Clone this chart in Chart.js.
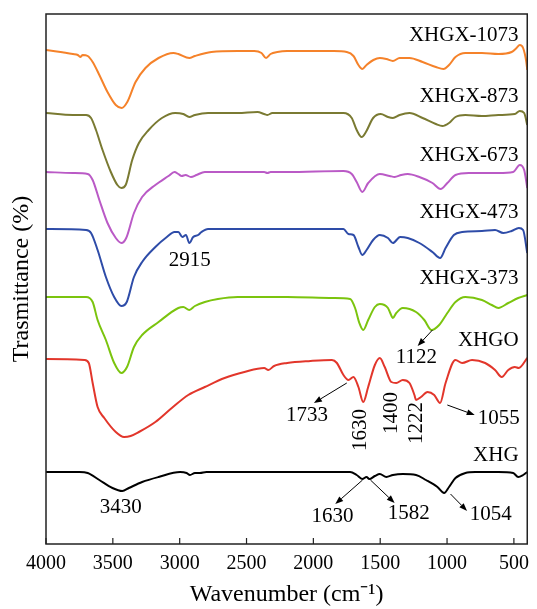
<!DOCTYPE html>
<html>
<head>
<meta charset="utf-8">
<script src="https://cdn.jsdelivr.net/npm/chart.js@4"></script>
<style>
  html,body{margin:0;padding:0;background:#fff;}
  #wrap{width:537px;height:609px;position:relative;}
</style>
</head>
<body>
<div id="wrap"><canvas id="c" width="537" height="609"></canvas></div>
<script>
// ---- data (wavenumber cm-1, relative transmittance with vertical offsets) ----
const wn1073 = [4000,3799,3762,3744,3725,3688,3651,3601,3540,3478,3434,3392,3330,3256,3158,3047,3010,2928,2886,2763,2566,2442,2388,2354,2320,2270,2196,1848,1750,1700,1663,1634,1602,1551,1503,1454,1405,1355,1281,1183,1084,1027,985,937,863,739,616,517,480,456,431,407,400];
const t1073  = [494,490,489,487,489,488,482,469,452,439,436,442,462,476,486,491,490,486,488,492,493,493,491,486,490,492,493,493,492,488,479,475,479,484,486,485,483,486,486,482,477,475,479,487,491,491,490,492,496,499,496,482,474];

const wn873 = [4000,3799,3737,3700,3663,3626,3577,3515,3466,3436,3404,3355,3305,3232,3133,3034,2973,2928,2886,2788,2566,2418,2368,2344,2307,2196,1848,1775,1713,1676,1639,1607,1553,1496,1442,1405,1355,1281,1183,1084,1035,985,937,863,739,616,493,456,423,400];
const t873  = [431,429,429,429,426,414,394,372,359,356,359,384,401,414,426,431,430,427,429,431,431,432,430,429,431,431,431,431,426,414,407,412,426,430,427,426,429,431,426,420,418,421,427,429,428,429,430,433,431,419];

const wn673 = [4000,3799,3688,3651,3601,3540,3478,3436,3400,3342,3281,3182,3084,3039,3010,2985,2956,2916,2874,2812,2566,2368,2344,2320,2196,1775,1713,1676,1634,1590,1503,1429,1392,1343,1294,1207,1109,1048,998,937,837,616,505,456,423,400];
const t673  = [372,371,370,364,344,321,306,301,306,331,347,359,368,372,370,368,369,367,369,372,372,372,371,372,372,373,370,362,352,361,370,368,367,369,370,367,361,355,361,369,371,371,372,379,374,356];

const wn473 = [4000,3700,3663,3614,3552,3490,3436,3396,3342,3281,3182,3096,3039,3010,2980,2953,2928,2899,2862,2837,2788,2196,1775,1738,1700,1663,1634,1602,1553,1503,1442,1405,1351,1294,1207,1109,1052,1011,949,887,739,641,579,517,463,431,400];
const t473  = [315,314,311,294,267,247,238,242,267,282,297,307,312,312,307,309,301,307,309,312,315,315,315,310,309,297,289,294,304,309,306,301,307,306,301,292,286,296,309,312,313,314,311,313,316,314,291];

const wn373 = [4000,3700,3651,3614,3552,3490,3436,3394,3342,3281,3158,3010,2973,2928,2886,2812,2714,2566,2196,1848,1725,1688,1656,1627,1590,1540,1503,1442,1425,1405,1380,1331,1232,1170,1116,1059,998,937,863,739,665,616,542,468,400];
const t373  = [247,247,242,224,204,181,171,177,197,209,222,236,237,234,238,242,245,247,247,246,245,236,221,214,224,237,240,236,231,226,231,236,232,224,214,219,231,242,247,244,239,236,241,246,249];

const wnXHGO = [4000,3712,3680,3651,3614,3564,3478,3416,3367,3305,3182,3059,2936,2812,2664,2516,2368,2337,2294,2196,2021,1861,1824,1775,1738,1700,1663,1627,1590,1540,1503,1466,1417,1380,1331,1281,1244,1232,1195,1146,1096,1052,1011,937,887,813,715,641,591,542,493,463,400];
const tXHGO  = [185,184,181,161,137,126,112,107,108,112,122,136,149,157,166,172,176,174,178,181,183,184,181,169,164,167,157,142,157,179,186,177,162,161,164,161,149,144,147,152,149,141,161,184,181,184,181,174,167,174,177,176,186];

const wnXHG = [4000,3749,3688,3601,3503,3429,3380,3281,3158,2997,2948,2923,2886,2849,2800,2344,1725,1676,1634,1602,1582,1540,1503,1454,1405,1331,1232,1158,1072,1022,985,937,863,789,616,505,468,431,400];
const tXHG  = [72,72,71,64,56,53,56,62,67,72,71,69,71,71,72,72,72,69,65,67,65,68,70,67,69,70,69,64,57,51,57,66,71,72,72,71,67,69,72];

const xTicks = [4000,3500,3000,2500,2000,1500,1000,500];

// series labels: [text, wavenumber (right edge), y]
const seriesLabels = [
  ["XHGX-1073",465,509],["XHGX-873",465,448],["XHGX-673",465,389],
  ["XHGX-473",465,332],["XHGX-373",465,266],["XHGO",465,204],["XHG",465,89]
];
// peak labels: [text, wavenumber (centre), y, rotated]
const peakLabels = [
  ["2915",2925,284,false],["3430",3441,37,false],["1122",1229,186.5,false],
  ["1733",2048,128.5,false],["1055",613,126,false],["1630",1856,27.5,false],
  ["1582",1286,31,false],["1054",673,30,false],
  ["1630",1645,114,true],["1400",1412,131,true],["1222",1231,121,true]
];
// arrows: [fromWn, fromY, toWn, toY]
const arrows = [
  [1109,214,1220,198],[1750,161,1996,141],[998,139,793,129],
  [1632,64,1836,40],[1573,64,1392,41],[974,50,850,33]
];

const series = [
  {label:"XHGX-1073", wn:wn1073, t:t1073, color:"#F5822A"},
  {label:"XHGX-873",  wn:wn873,  t:t873,  color:"#7A7A32"},
  {label:"XHGX-673",  wn:wn673,  t:t673,  color:"#BA5AC6"},
  {label:"XHGX-473",  wn:wn473,  t:t473,  color:"#2E4CA8"},
  {label:"XHGX-373",  wn:wn373,  t:t373,  color:"#7BC40E"},
  {label:"XHGO",      wn:wnXHGO, t:tXHGO, color:"#E2362B"},
  {label:"XHG",       wn:wnXHG,  t:tXHG,  color:"#000000"}
];

const FONT = "'Liberation Serif','Times New Roman',serif";

const annot = {
  id:'annot',
  afterDraw(chart){
    const ctx = chart.ctx, xs = chart.scales.x, ys = chart.scales.y, a = chart.chartArea;
    ctx.save();
    // frame
    ctx.strokeStyle = '#222'; ctx.lineWidth = 1.5;
    ctx.strokeRect(a.left, a.top, a.right - a.left, a.bottom - a.top);
    // inward ticks
    ctx.lineWidth = 1.2;
    xTicks.forEach(v=>{
      const px = xs.getPixelForValue(v);
      ctx.beginPath(); ctx.moveTo(px, a.bottom); ctx.lineTo(px, a.bottom - 6); ctx.stroke();
    });
    ctx.fillStyle = '#000';
    ctx.font = "21px " + FONT;
    ctx.textBaseline = 'middle';
    ctx.textAlign = 'right';
    seriesLabels.forEach(([s,w,y])=>{
      ctx.fillText(s, xs.getPixelForValue(w), ys.getPixelForValue(y));
    });
    ctx.textAlign = 'center';
    peakLabels.forEach(([s,w,y,rot])=>{
      const px = xs.getPixelForValue(w), py = ys.getPixelForValue(y);
      if (rot){
        ctx.save(); ctx.translate(px, py); ctx.rotate(-Math.PI/2);
        ctx.fillText(s, 0, 0); ctx.restore();
      } else ctx.fillText(s, px, py);
    });
    // arrows
    ctx.strokeStyle = '#000'; ctx.lineWidth = 1;
    arrows.forEach(([w1,y1,w2,y2])=>{
      const x1 = xs.getPixelForValue(w1), yy1 = ys.getPixelForValue(y1);
      const x2 = xs.getPixelForValue(w2), yy2 = ys.getPixelForValue(y2);
      const ang = Math.atan2(yy2-yy1, x2-x1), L = 8, W = 3;
      const bx = x2 - L*Math.cos(ang), by = yy2 - L*Math.sin(ang);
      ctx.beginPath(); ctx.moveTo(x1,yy1); ctx.lineTo(bx,by); ctx.stroke();
      ctx.beginPath();
      ctx.moveTo(x2,yy2);
      ctx.lineTo(bx + W*Math.sin(ang), by - W*Math.cos(ang));
      ctx.lineTo(bx - W*Math.sin(ang), by + W*Math.cos(ang));
      ctx.closePath(); ctx.fill();
    });
    ctx.restore();
  }
};

new Chart(document.getElementById('c'), {
  type:'line',
  data:{
    datasets: series.map(s=>({
      label:s.label,
      data:s.wn.map((w,i)=>({x:w, y:s.t[i]})),
      borderColor:s.color, backgroundColor:s.color,
      borderWidth:2, pointRadius:0, fill:false,
      cubicInterpolationMode:'monotone'
    }))
  },
  options:{
    responsive:false, animation:false, devicePixelRatio:1,
    layout:{padding:{top:14,right:4,left:0,bottom:0}},
    plugins:{legend:{display:false}, tooltip:{enabled:false}},
    scales:{
      x:{
        type:'linear', min:400, max:4000, reverse:true,
        grid:{display:false, drawTicks:false},
        border:{display:false},
        afterBuildTicks:(sc)=>{ sc.ticks = xTicks.map(v=>({value:v})); },
        afterFit:(sc)=>{ sc.height = 65; },
        ticks:{color:'#000', font:{family:FONT, size:20}, padding:8, maxRotation:0, autoSkip:false,
               callback:(v)=>String(v)},
        title:{display:true, text:'Wavenumber (cm\u207B\u00B9)', color:'#000', font:{family:FONT, size:24}, padding:{top:0,bottom:0}}
      },
      y:{
        type:'linear', min:0, max:530,
        grid:{display:false, drawTicks:false},
        border:{display:false},
        ticks:{display:false},
        afterFit:(sc)=>{ sc.width = 46; },
        title:{display:true, text:'Trasmittance (%)', color:'#000', font:{family:FONT, size:24}, padding:{top:7,bottom:0}}
      }
    }
  },
  plugins:[annot]
});
</script>
</body>
</html>
